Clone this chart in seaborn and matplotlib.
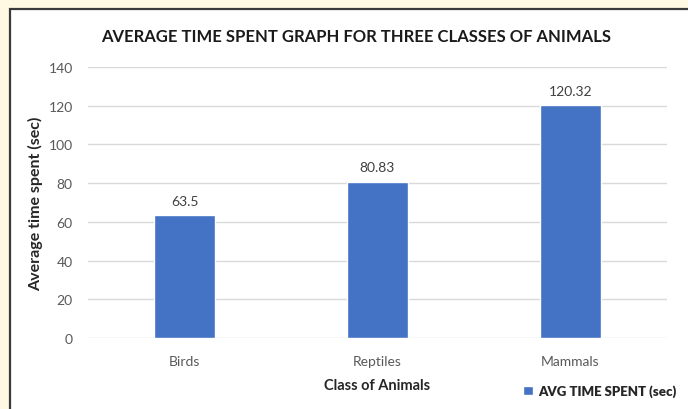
import matplotlib
matplotlib.use('Agg')
import matplotlib.pyplot as plt
import seaborn as sns
import pandas as pd
from matplotlib.patches import Rectangle, Patch

# ─── Data ────────────────────────────────────────────────────────────────────
classes = ['Birds', 'Reptiles', 'Mammals']
avg_time = [63.5, 80.83, 120.32]
value_labels = ['63.5', '80.83', '120.32']
y_ticks = [0, 20, 40, 60, 80, 100, 120, 140]

df = pd.DataFrame({'Class': classes, 'Time': avg_time})

sns.set_theme(style='white')
plt.rcParams['font.family'] = ['Lato', 'DejaVu Sans']

BLUE = '#4472C4'
TXT = '#595959'

fig = plt.figure(figsize=(6.88, 4.10), dpi=100)
fig.patch.set_facecolor('#FFF9E4')

# white chart panel with dark border
panel = Rectangle((10 / 688, -0.05), 1.0, 1 - 10 / 410 + 0.05,
                  transform=fig.transFigure, facecolor='white',
                  edgecolor='#3a3a3a', linewidth=1.6, zorder=-5)
fig.patches.append(panel)

ax = fig.add_axes([88 / 688, 1 - 339 / 410, (667 - 88) / 688, (339 - 68) / 410])
ax.set_facecolor('none')

sns.barplot(data=df, x='Class', y='Time', color=BLUE, width=0.32,
            saturation=1, ax=ax, zorder=3)

ax.set_ylim(0, 140)
ax.set_yticks(y_ticks)
ax.set_xlim(-0.5, 2.5)
ax.yaxis.grid(True, color='#d9d9d9', linewidth=1.0, zorder=0)
ax.set_axisbelow(True)
for s in ax.spines.values():
    s.set_visible(False)
ax.tick_params(axis='both', length=0, labelsize=10, colors=TXT)
ax.tick_params(axis='y', pad=11)
ax.tick_params(axis='x', pad=12)

for i, (v, lab) in enumerate(zip(avg_time, value_labels)):
    ax.annotate(lab, (i, v), xytext=(0, 6), textcoords='offset points',
                ha='center', va='bottom', fontsize=10, color='#404040')

ax.set_xlabel('Class of Animals', fontsize=10.5, fontweight='bold',
              color='#262626', labelpad=8)
ax.set_ylabel('Average time spent (sec)', fontsize=11.5, fontweight='bold',
              color='#262626', labelpad=4)

fig.text(356 / 688, 1 - 37 / 410, 'AVERAGE TIME SPENT GRAPH FOR THREE CLASSES OF ANIMALS',
         ha='center', va='center', fontsize=12, fontweight='bold', color='#1a1a1a')

fig.legend(handles=[Patch(facecolor=BLUE, label='AVG TIME SPENT (sec)')],
           loc='center right', bbox_to_anchor=(688 / 688, 1 - 392 / 410),
           frameon=False, handlelength=0.7, handleheight=0.7, handletextpad=0.4,
           prop={'size': 9.5, 'weight': 'heavy'}, labelcolor='#262626')

fig.savefig('out.png', dpi=100, facecolor=fig.get_facecolor())
